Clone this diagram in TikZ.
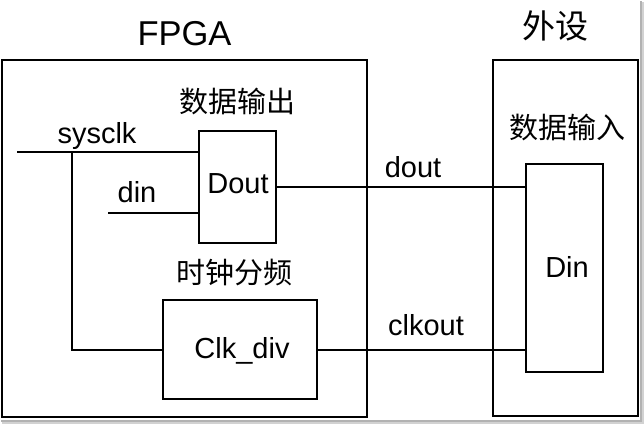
\documentclass[tikz,border=0pt]{standalone}
\usepackage{fontspec}
\setmainfont{Liberation Sans}
\newfontfamily\cjk{Noto Sans CJK SC}
\begin{document}
\begin{tikzpicture}[x=1pt,y=-1pt,line width=2pt,
  blk/.style={draw=black,inner sep=0pt,outer sep=0pt},
  lbl/.style={inner sep=0pt,font=\fontsize{29}{29}\selectfont,anchor=base},
  cjklbl/.style={inner sep=0pt,font=\fontsize{29}{29}\selectfont\cjk},
  ttl/.style={inner sep=0pt,font=\fontsize{34.5}{34.5}\selectfont}]
\useasboundingbox (0,0) rectangle (644,424);
\fill[gray!35] (2,2) rectangle (644,424);
\fill[gray!60] (1,1) rectangle (642,422);
\fill[white] (0,0) rectangle (640,420);
% titles
\node[ttl,anchor=base] (fpgat) at (184.5,45) {FPGA};
\node[ttl,font=\fontsize{33}{33}\selectfont\cjk] (wst) at (555,26) {外设};
% frames
\node[blk,minimum width=365pt,minimum height=357pt] (fpga) at (184.5,238.5) {};
\node[blk,minimum width=145pt,minimum height=356pt] (ws) at (565.5,238) {};
% blocks
\node[blk,minimum width=77pt,minimum height=112pt] (dout) at (237.5,187) {};
\node[blk,minimum width=154pt,minimum height=99pt] (clkdiv) at (240,349.5) {};
\node[blk,minimum width=77pt,minimum height=208pt] (din) at (564.5,268) {};
% block texts
\node[lbl] (doutt) at (238,193) {Dout};
\node[lbl] (clkdivt) at (242,358) {Clk\_div};
\node[lbl] (dint) at (567,277) {Din};
\node[cjklbl] (sjsc) at (237,101) {数据输出};
\node[cjklbl] (szfp) at (234,272) {时钟分频};
\node[cjklbl] (sjsr) at (567,127) {数据输入};
% signal labels
\node[lbl] (sysclkt) at (97,143) {sysclk};
\node[lbl] (dinsig) at (137,202) {din};
\node[lbl] (doutsig) at (413,177) {dout};
\node[lbl] (clkoutsig) at (426,335) {clkout};
% connectors
\coordinate (sysin) at (17,152);
\coordinate (br) at (72,152);
\coordinate (dinin) at (108,213);
\draw (sysin) -- (dout.west |- sysin);
\draw (br) |- (clkdiv.west);
\draw (dinin) -- (dinin -| dout.west);
\draw (dout.east) -- (dout.east -| din.west);
\draw (clkdiv.east) -- (clkdiv.east -| din.west);
\end{tikzpicture}
\end{document}
